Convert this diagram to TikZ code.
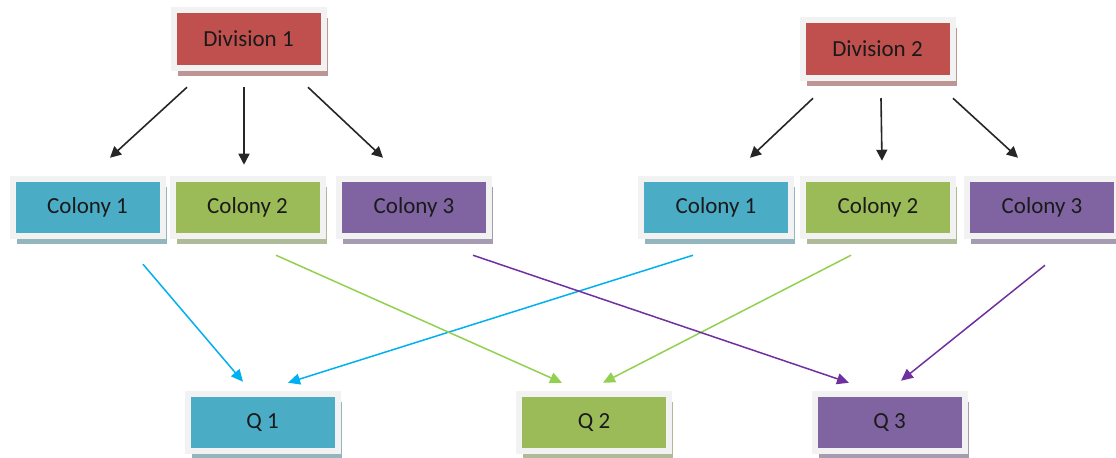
\documentclass[tikz,border=0pt]{standalone}
\usepackage{fontspec}
\setmainfont{Carlito}
\usetikzlibrary{arrows.meta,shadows,calc}
\definecolor{divred}{HTML}{C0504D}
\definecolor{colblue}{HTML}{4BACC6}
\definecolor{colgreen}{HTML}{9BBB59}
\definecolor{colpurple}{HTML}{8064A2}
\definecolor{framegray}{HTML}{F2F2F2}
\definecolor{arrcyan}{HTML}{00B0F0}
\definecolor{arrgreen}{HTML}{92D050}
\definecolor{arrpurple}{HTML}{7030A0}
\definecolor{txt}{HTML}{1A1A1A}
\tikzset{
  cbox/.style={rectangle, minimum width=75pt, minimum height=28.75pt,
    draw=framegray, line width=3pt, outer sep=0pt, inner sep=0pt,
    fill=#1, text=txt, font=\fontsize{11.5}{14}\selectfont,
    drop shadow={shadow xshift=2pt, shadow yshift=-4pt, fill=#1!50!gray!70, opacity=1}},
  blackarr/.style={draw=black!85, line width=0.8pt, -{Triangle[length=5.5pt,width=5.5pt]}},
  colarr/.style={draw=#1, line width=0.75pt, -{Triangle[length=6pt,width=5.5pt]}}
}
\begin{document}
\begin{tikzpicture}[x=0.5pt,y=-0.5pt]
\useasboundingbox (0,0) rectangle (1116,458);
% top row
\node[cbox=divred] (d1) at (248.5,39) {Division 1};
\node[cbox=divred] (d2) at (877.5,49) {Division 2};
% colonies
\node[cbox=colblue]   (lc1) at (87.5,207.5) {Colony 1};
\node[cbox=colgreen]  (lc2) at (247.5,207.5) {Colony 2};
\node[cbox=colpurple] (lc3) at (414,207.5) {Colony 3};
\node[cbox=colblue]   (rc1) at (716,207.5) {Colony 1};
\node[cbox=colgreen]  (rc2) at (878,207.5) {Colony 2};
\node[cbox=colpurple] (rc3) at (1042,207.5) {Colony 3};
% queues
\node[cbox=colblue]   (q1) at (262.5,422.5) {Q 1};
\node[cbox=colgreen]  (q2) at (594,422.5) {Q 2};
\node[cbox=colpurple] (q3) at (889.5,422.5) {Q 3};
% black arrows
\draw[blackarr] ($(d1.south)+(-61.5,19.5)$) -- ($(lc1.north)+(22.5,-21)$);
\draw[blackarr] ($(d1.south)+(-4.5,19.5)$) -- ($(lc2.north)+(-3.5,-14)$);
\draw[blackarr] ($(d1.south)+(59.5,19.5)$) -- ($(lc3.north)+(-31,-21)$);
\draw[blackarr] ($(d2.south)+(-64.5,20.5)$) -- ($(rc1.north)+(34,-21)$);
\draw[blackarr] ($(d2.south)+(3.5,20.5)$) -- ($(rc2.north)+(4,-18)$);
\draw[blackarr] ($(d2.south)+(75.5,20.5)$) -- ($(rc3.north)+(-24,-21)$);
% coloured arrows
\draw[colarr=arrcyan] ($(lc1.south)+(55.5,28)$) -- ($(q1.north)+(-19.5,-12)$);
\draw[colarr=arrcyan] ($(rc1.south)+(-23,19)$) -- ($(q1.north)+(25.5,-11)$);
\draw[colarr=arrgreen] ($(lc2.south)+(28.5,19)$) -- ($(q2.north)+(-32,-11)$);
\draw[colarr=arrgreen] ($(rc2.south)+(-27,19)$) -- ($(q2.north)+(9,-11)$);
\draw[colarr=arrpurple] ($(lc3.south)+(59,19)$) -- ($(q3.north)+(-40.5,-11)$);
\draw[colarr=arrpurple] ($(rc3.south)+(3,29)$) -- ($(q3.north)+(11.5,-13)$);
\end{tikzpicture}
\end{document}
